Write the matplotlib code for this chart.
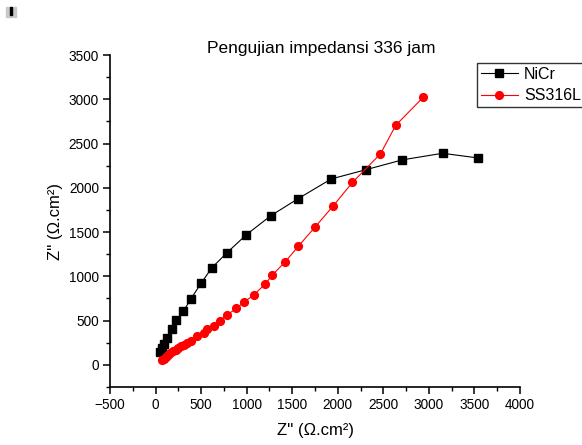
import matplotlib
matplotlib.use("Agg")
import matplotlib.pyplot as plt
from matplotlib.patches import Rectangle
from matplotlib.ticker import MultipleLocator

plt.rcParams['font.family'] = ['Liberation Sans', 'DejaVu Sans']

# Nyquist data after 336 h immersion
nicr_zre = [50, 68, 95, 130, 180, 228, 305, 388, 498, 618, 783, 995, 1265,
            1562, 1928, 2310, 2710, 3150, 3540]
nicr_zim = [147, 195, 240, 298, 408, 503, 605, 745, 920, 1097, 1266, 1469,
            1685, 1876, 2100, 2205, 2316, 2390, 2337]

ss_zre = [75, 92, 112, 135, 160, 188, 220, 250, 280, 315, 350, 385, 460,
          532, 565, 638, 706, 788, 885, 975, 1078, 1200, 1283, 1422, 1567,
          1755, 1945, 2160, 2468, 2636, 2940]
ss_zim = [50, 68, 90, 112, 133, 153, 173, 190, 208, 228, 250, 270, 331,
          361, 405, 442, 500, 565, 638, 712, 790, 910, 1016, 1163, 1340,
          1562, 1790, 2060, 2383, 2706, 3025]

fig = plt.figure(figsize=(5.82, 4.45), dpi=100)
ax = fig.add_axes([0.189, 0.1303, 0.7045, 0.7461])

ax.plot(nicr_zre, nicr_zim, color='black', lw=0.8, marker='s', ms=5.4,
        label='NiCr')
ax.plot(ss_zre, ss_zim, color='red', lw=0.8, marker='o', ms=5.6,
        mfc='red', mec='red', label='SS316L')

ax.set_xlim(-500, 4000)
ax.set_ylim(-250, 3500)
ax.xaxis.set_major_locator(MultipleLocator(500))
ax.xaxis.set_minor_locator(MultipleLocator(250))
ax.yaxis.set_major_locator(MultipleLocator(500))
ax.yaxis.set_minor_locator(MultipleLocator(250))
ax.set_yticks(range(0, 3501, 500))

for side in ('top', 'right'):
    ax.spines[side].set_visible(False)
for side in ('left', 'bottom'):
    ax.spines[side].set_linewidth(1.2)

ax.tick_params(which='major', direction='out', length=5, width=1.1,
               labelsize=9.8, pad=3)
ax.tick_params(which='minor', direction='out', length=3, width=1.0)

ax.set_xlabel("Z'' (Ω.cm²)", fontsize=12, labelpad=8)
ax.set_ylabel("Z'' (Ω.cm²)", fontsize=12, labelpad=4)
fig.text(321 / 582, 1 - 49 / 445, 'Pengujian impedansi 336 jam',
         fontsize=12.5, ha='center', va='center')

leg = fig.legend(loc='upper left', bbox_to_anchor=(477 / 582, 1 - 63 / 445),
                 borderaxespad=0, fontsize=11.5, frameon=True,
                 fancybox=False, edgecolor='black', borderpad=0.25,
                 handlelength=2.3, handletextpad=0.4, labelspacing=0.4)
leg.get_frame().set_linewidth(1.0)

# small marker box in the corner
fig.patches.append(Rectangle((6 / 582, 1 - 17 / 445), 10 / 582, 10 / 445,
                             transform=fig.transFigure, color='#c8c8c8'))
fig.patches.append(Rectangle((10 / 582, 1 - 15 / 445), 1.6 / 582, 8 / 445,
                             transform=fig.transFigure, color='black'))

fig.savefig('out.png', dpi=100)
